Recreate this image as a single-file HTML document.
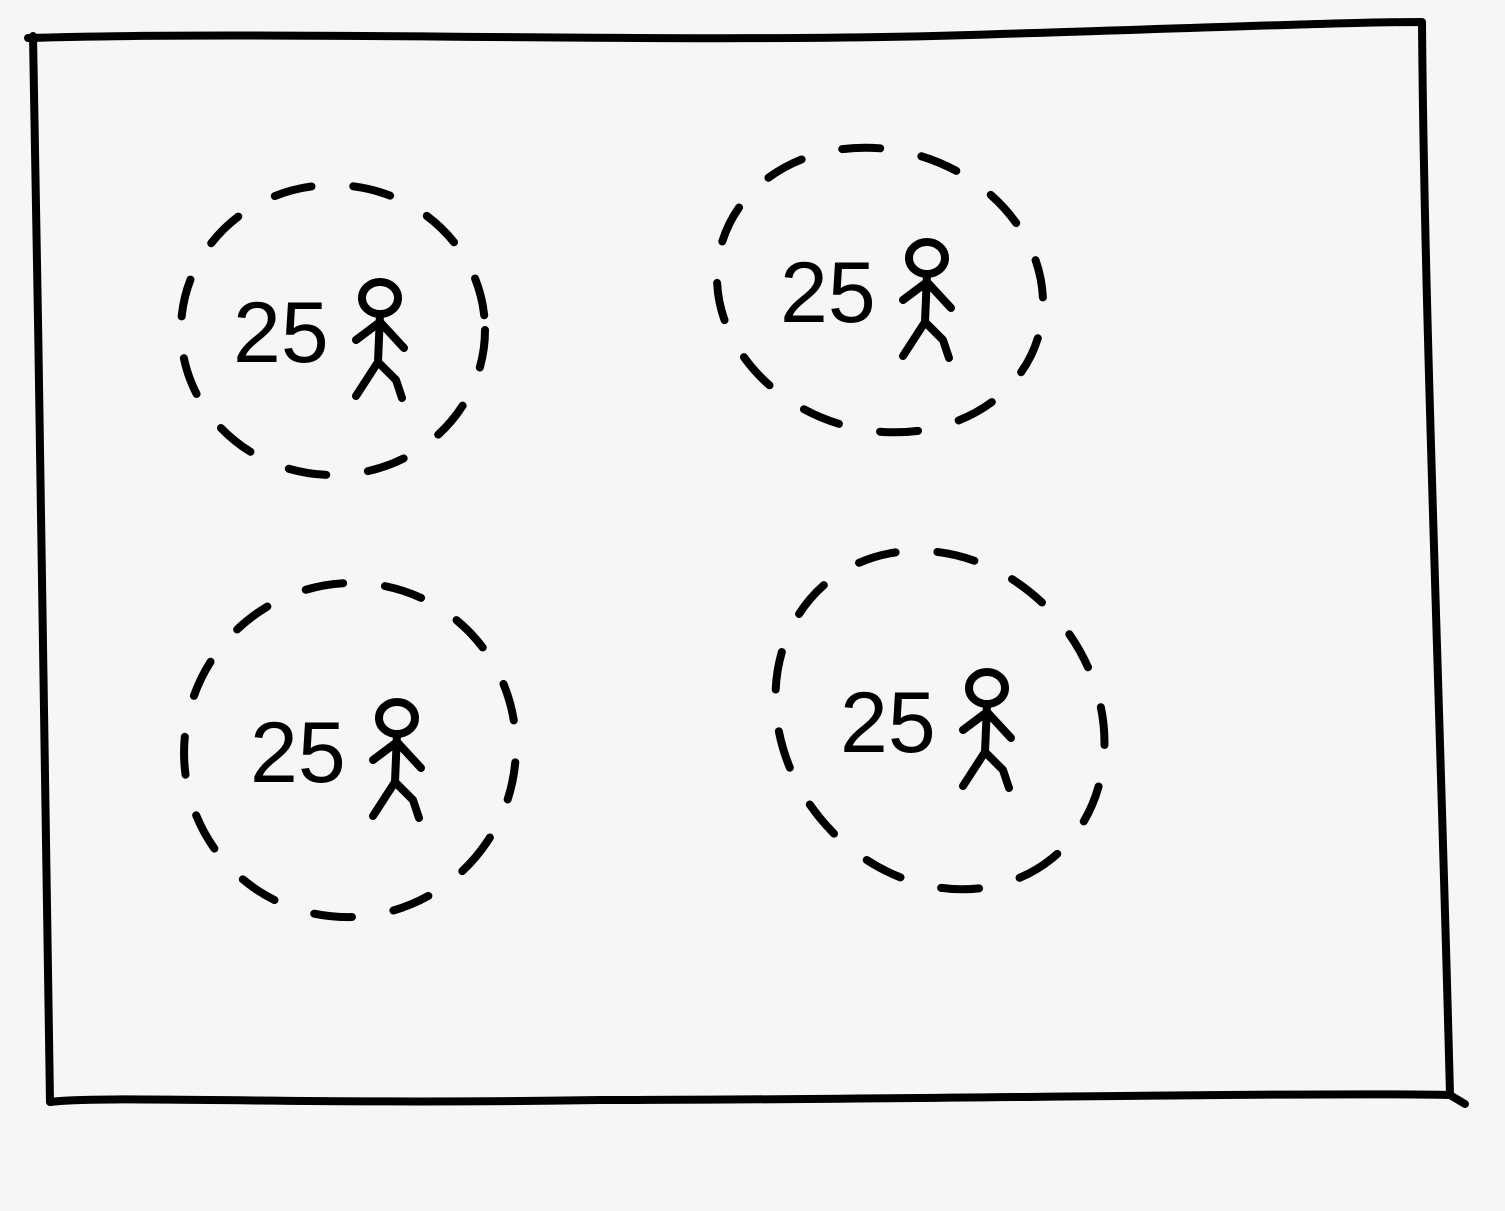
<!DOCTYPE html>
<html>
<head>
<meta charset="utf-8">
<style>
  html,body{margin:0;padding:0;background:#f6f6f6;}
  svg{display:block;}
  .ink{fill:none;stroke:#000;stroke-width:8;stroke-linecap:round;stroke-linejoin:round;}
  .lbl{font-family:"Liberation Sans",sans-serif;font-size:86px;fill:#000;}
</style>
</head>
<body>
<svg id="chart" width="1505" height="1211" viewBox="0 0 1505 1211" xmlns="http://www.w3.org/2000/svg">
  <rect width="1505" height="1211" fill="#f6f6f6"/>
  <path class="ink"
    d="M28 38 C300 30 700 45 1000 34 C1200 28 1350 22 1422 22 C1424 300 1440 700 1450 1095 C1300 1092 900 1100 600 1100 C300 1105 100 1095 50 1102 C45 800 40 400 33 36"/>
  <path class="ink" d="M1450 1095 L1465 1104"/>
  <g id="groups"></g>
</svg>
<script>
const groupLabels = ["group-a","group-b","group-c","group-d"];
const groupValues = [25, 25, 25, 25];
const centersX = [333, 880, 350, 940];
const centersY = [330, 290, 750, 720];
const radiiX = [152, 165, 165, 178];
const radiiY = [145, 140, 168, 155];

const NS = "http://www.w3.org/2000/svg";
const g = document.getElementById("groups");
function mk(tag, attrs){const e=document.createElementNS(NS,tag);for(const k in attrs)e.setAttribute(k,attrs[k]);return e;}

for (let i = 0; i < groupValues.length; i++) {
  const cx = centersX[i], cy = centersY[i];
  const grp = mk("g", {});
  
  

  const ell = mk("ellipse", {cx:cx, cy:cy, rx:radiiX[i], ry:radiiY[i], class:"ink", "stroke-dasharray":"38 42", transform:"rotate(" + (i*17) + " " + cx + " " + cy + ")"});
  
  
  grp.appendChild(ell);

  const t = mk("text", {x:cx-100, y:cy+32, class:"lbl"});
  t.textContent = String(groupValues[i]);
  
  
  grp.appendChild(t);

  const fx = cx + 47, fy = cy - 32;
  const fig = mk("g", {class:"ink"});
  
  
  fig.appendChild(mk("ellipse", {cx:fx, cy:fy, rx:18, ry:16}));
  fig.appendChild(mk("path", {d:"M"+fx+" "+(fy+16)+" L"+(fx-2)+" "+(fy+64)+" M"+(fx-24)+" "+(fy+42)+" L"+fx+" "+(fy+24)+" L"+(fx+24)+" "+(fy+50)+" M"+(fx-2)+" "+(fy+64)+" L"+(fx-24)+" "+(fy+98)+" M"+(fx-2)+" "+(fy+64)+" L"+(fx+16)+" "+(fy+82)+" L"+(fx+22)+" "+(fy+100)}));
  grp.appendChild(fig);

  g.appendChild(grp);
}
</script>
</body>
</html>
